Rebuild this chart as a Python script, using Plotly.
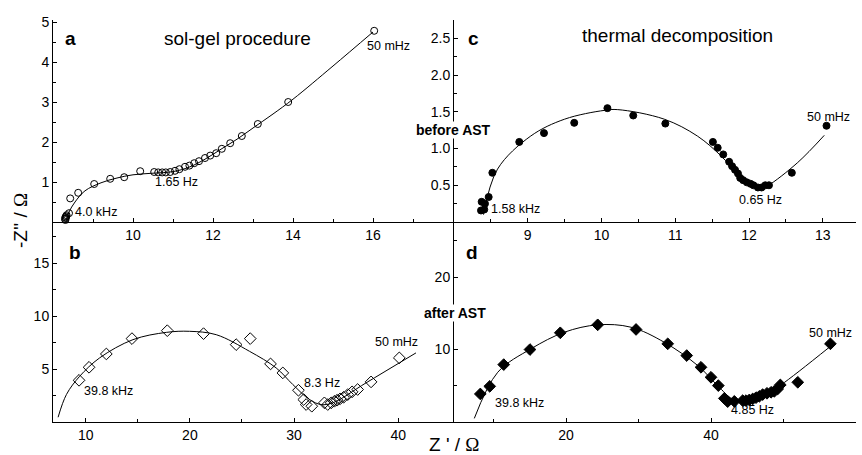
import plotly.graph_objects as go

# ---- panel a: sol-gel procedure (open circles) ----
a_zre = [8.30, 8.31, 8.32, 8.33, 8.31, 8.34, 8.40, 8.43, 8.63, 9.03, 9.43, 9.78, 10.18,
         10.53, 10.63, 10.73, 10.82, 10.93, 11.05, 11.16, 11.30, 11.41, 11.53, 11.65,
         11.80, 11.93, 12.08, 12.22, 12.43, 12.72, 13.12, 13.88, 16.03]
a_zim = [0.08, 0.12, 0.10, 0.14, 0.05, 0.17, 0.22, 0.59, 0.73, 0.95, 1.08, 1.12, 1.27,
         1.25, 1.24, 1.24, 1.24, 1.25, 1.28, 1.32, 1.38, 1.41, 1.47, 1.52,
         1.60, 1.66, 1.72, 1.83, 1.97, 2.15, 2.45, 3.00, 4.78]
a_fit_zre = [8.33, 8.40, 8.55, 8.80, 9.20, 9.60, 10.00, 10.50, 11.00, 11.40, 11.80,
             12.20, 12.60, 13.00, 13.50, 14.00, 15.00, 16.00]
a_fit_zim = [0.05, 0.25, 0.50, 0.78, 0.98, 1.10, 1.18, 1.22, 1.26, 1.37, 1.57,
             1.82, 2.07, 2.35, 2.70, 3.07, 3.90, 4.75]

# ---- panel c: thermal decomposition, before AST (filled circles) ----
c_zre = [8.366, 8.375, 8.41, 8.42, 8.47, 8.52, 8.885, 9.22, 9.63, 10.08, 10.43, 10.865,
         11.51, 11.575, 11.65, 11.73, 11.77, 11.81, 11.85, 11.88, 11.92, 11.97, 12.02,
         12.06, 12.12, 12.17, 12.22, 12.27, 12.58, 13.05]
c_zim = [0.157, 0.275, 0.17, 0.25, 0.34, 0.67, 1.09, 1.21, 1.35, 1.55, 1.45, 1.34,
         1.09, 1.01, 0.92, 0.82, 0.76, 0.71, 0.66, 0.60, 0.57, 0.54, 0.52,
         0.50, 0.47, 0.47, 0.50, 0.50, 0.67, 1.31]
c_fit_zre = [8.40, 8.59, 9.04, 9.50, 10.04, 10.22, 10.85, 11.30, 11.62, 11.85, 12.03,
             12.14, 12.25, 12.66, 13.02]
c_fit_zim = [0.10, 0.72, 1.17, 1.40, 1.52, 1.53, 1.40, 1.17, 0.90, 0.65, 0.51,
             0.44, 0.49, 0.81, 1.18]

# ---- panel b: sol-gel procedure, after AST (open diamonds) ----
b_zre = [9.36, 10.32, 11.98, 14.44, 17.83, 21.31, 24.44, 25.79, 27.74, 28.92, 30.42,
         30.93, 31.16, 31.70, 32.91, 33.23, 33.56, 33.87, 34.13, 34.42, 34.76, 35.15,
         35.57, 36.10, 37.39, 40.10]
b_zim = [3.94, 5.17, 6.43, 7.88, 8.63, 8.35, 7.31, 7.88, 5.49, 4.64, 3.00,
         2.12, 1.65, 1.49, 1.81, 1.65, 1.81, 1.96, 2.06, 2.19, 2.34, 2.59,
         2.85, 3.07, 3.79, 6.06]
b_fit_zre = [7.35, 8.15, 9.42, 11.34, 14.53, 17.74, 19.97, 22.53, 25.72, 28.28, 29.88,
             31.48, 32.60, 33.71, 36.91, 41.70]
b_fit_zim = [0.45, 2.60, 4.32, 6.06, 7.78, 8.47, 8.57, 8.25, 6.68, 5.11, 3.54,
             2.12, 1.65, 1.81, 3.70, 6.53]

# ---- panel d: thermal decomposition, after AST (filled diamonds) ----
d_zre = [8.18, 9.48, 11.41, 15.03, 19.21, 24.37, 29.66, 34.03, 36.65, 38.62, 40.00,
         41.01, 41.84, 42.30, 43.22, 44.37, 44.83, 45.28, 45.75, 46.21, 46.66, 47.12,
         47.72, 48.28, 48.73, 49.20, 49.56, 51.97, 56.47]
d_zim = [3.87, 4.92, 7.92, 10.00, 12.31, 13.41, 12.77, 10.79, 9.17, 7.55, 6.17,
         5.02, 3.26, 2.81, 2.85, 2.95, 2.95, 3.04, 3.18, 3.36, 3.54, 3.78,
         3.96, 4.10, 4.23, 4.56, 5.12, 5.48, 10.79]
d_fit_zre = [7.35, 10.58, 15.17, 19.77, 24.37, 28.97, 33.56, 38.17, 40.92, 42.99,
             45.06, 47.35, 49.66, 56.32]
d_fit_zim = [0.50, 6.86, 10.10, 12.39, 13.41, 13.08, 11.00, 7.79, 5.02, 3.18,
             2.95, 3.64, 5.12, 10.32]

# tick labels
a_xticks = [10, 12, 14, 16]
a_yticks = [1, 2, 3, 4, 5]
c_xticks = [9, 10, 11, 12, 13]
c_yticks = [0.5, 1.0, 1.5, 2.0, 2.5]
b_xticks = [10, 20, 30, 40]
b_yticks = [5, 10, 15]
d_xticks = [20, 40, 60]
d_yticks = [10, 20]

FONT = "Arial, Liberation Sans, sans-serif"
W, H = 862, 455
L, R, T, B = 53, 6, 20, 33
PW, PH = W - L - R, H - T - B
XS = (454 - L) / PW
YS = (422 - 222) / PH


def paper(px, py):
    return (px - L) / PW, (H - B - py) / PH


fig = go.Figure()


def add_panel(zre, zim, fzre, fzim, xa, ya, symbol, size):
    fig.add_trace(go.Scatter(x=fzre, y=fzim, mode="lines", xaxis=xa, yaxis=ya,
                             line=dict(color="black", width=1, shape="spline", smoothing=1.0),
                             showlegend=False, hoverinfo="skip"))
    fig.add_trace(go.Scatter(x=zre, y=zim, mode="markers", xaxis=xa, yaxis=ya,
                             marker=dict(symbol=symbol, size=size, color="black",
                                         line=dict(color="black", width=1)),
                             showlegend=False, cliponaxis=False))


add_panel(a_zre, a_zim, a_fit_zre, a_fit_zim, "x", "y", "circle-open", 7)
add_panel(c_zre, c_zim, c_fit_zre, c_fit_zim, "x2", "y2", "circle", 7)
add_panel(b_zre, b_zim, b_fit_zre, b_fit_zim, "x3", "y3", "diamond-open", 9)
add_panel(d_zre, d_zim, d_fit_zre, d_fit_zim, "x4", "y4", "diamond", 9)

axis_style = dict(showline=True, linecolor="black", linewidth=1, ticks="inside",
                  ticklen=4, tickcolor="black", tickwidth=1, showgrid=False,
                  zeroline=False, mirror=False,
                  tickfont=dict(family=FONT, size=14, color="black"))


def xax(domain, rng, ticks, minor, anchor):
    return dict(axis_style, domain=domain, range=rng, anchor=anchor, tickmode="array",
                tickvals=ticks, ticktext=[str(t) for t in ticks],
                minor=dict(tickmode="array", tickvals=minor, ticks="inside",
                           ticklen=3, tickcolor="black"))


def yax(domain, rng, ticks, labels, minor, anchor):
    return dict(axis_style, domain=domain, range=rng, anchor=anchor, tickmode="array",
                tickvals=ticks, ticktext=labels,
                minor=dict(tickmode="array", tickvals=minor, ticks="inside",
                           ticklen=3, tickcolor="black"))


fig.update_layout(
    width=W, height=H, margin=dict(l=L, r=R, t=T, b=B),
    paper_bgcolor="white", plot_bgcolor="rgba(0,0,0,0)",
    font=dict(family=FONT, color="black"),
    xaxis=xax([0, XS], [8, 18.025], a_xticks, [9, 11, 13, 15, 17], "y"),
    yaxis=yax([YS, 1], [0, 5.05], a_yticks, [str(t) for t in a_yticks],
              [0.5, 1.5, 2.5, 3.5, 4.5], "x"),
    xaxis2=xax([XS, 1], [8, 13.45], c_xticks, [8.5, 9.5, 10.5, 11.5, 12.5, 13.5], "y2"),
    yaxis2=yax([YS, 1], [0, 2.75], c_yticks, ["0.5", "1.0", "1.5", "2.0", "2.5"],
               [0.25, 0.75, 1.25, 1.75, 2.25], "x2"),
    xaxis3=xax([0, XS], [6.86, 45.35], b_xticks, [15, 25, 35], "y3"),
    yaxis3=yax([0, YS], [0, 18.9], b_yticks, [str(t) for t in b_yticks],
               [2.5, 7.5, 12.5, 17.5], "x3"),
    xaxis4=xax([XS, 1], [4.55, 60], d_xticks, [10, 30, 50], "y4"),
    yaxis4=yax([0, YS], [0, 27.6], d_yticks, [str(t) for t in d_yticks],
               [5, 15, 25], "x4"),
)

OMEGA = '<span style="font-family:Liberation Serif, Times New Roman, serif">Ω</span>'

notes = [
    # (text, px, py, size, bold, white background)
    ("a", 70, 38, 19, True, False),
    ("sol-gel procedure", 237, 38, 19, False, False),
    ("c", 473, 39, 19, True, False),
    ("thermal decomposition", 677, 35, 19, False, False),
    ("b", 75, 252, 19, True, False),
    ("d", 472, 252, 19, True, False),
    ("before AST", 453, 130, 14, True, True),
    ("after AST", 455, 313, 14, True, True),
    ("4.0 kHz", 96, 212, 12.5, False, False),
    ("1.65 Hz", 176, 182, 12.5, False, False),
    ("50 mHz", 388, 46, 12.5, False, False),
    ("1.58 kHz", 515, 209, 12.5, False, False),
    ("0.65 Hz", 760, 200, 12.5, False, False),
    ("50 mHz", 828, 117, 12.5, False, False),
    ("39.8 kHz", 108, 391, 12.5, False, False),
    ("8.3 Hz", 322, 383, 12.5, False, False),
    ("50 mHz", 396, 342, 12.5, False, False),
    ("39.8 kHz", 519, 403, 12.5, False, False),
    ("4.85 Hz", 752, 410, 12.5, False, False),
    ("50 mHz", 830, 333, 12.5, False, False),
]
for text, px, py, size, bold, bg in notes:
    x, y = paper(px, py)
    fig.add_annotation(x=x, y=y, xref="paper", yref="paper", showarrow=False,
                       text=f"<b>{text}</b>" if bold else text,
                       xanchor="center", yanchor="middle",
                       font=dict(family=FONT, size=size, color="black"),
                       bgcolor="white" if bg else "rgba(0,0,0,0)", borderpad=0)

# axis titles
x, y = paper(454, 445)
fig.add_annotation(x=x, y=y, xref="paper", yref="paper", showarrow=False,
                   text=f"Z ' / {OMEGA}", xanchor="center", yanchor="middle",
                   font=dict(family=FONT, size=19, color="black"))
x, y = paper(20, 221)
fig.add_annotation(x=x, y=y, xref="paper", yref="paper", showarrow=False,
                   text=f"-Z'' / {OMEGA}", textangle=-90, xanchor="center", yanchor="middle",
                   font=dict(family=FONT, size=19, color="black"))

fig.write_html("out.html")
